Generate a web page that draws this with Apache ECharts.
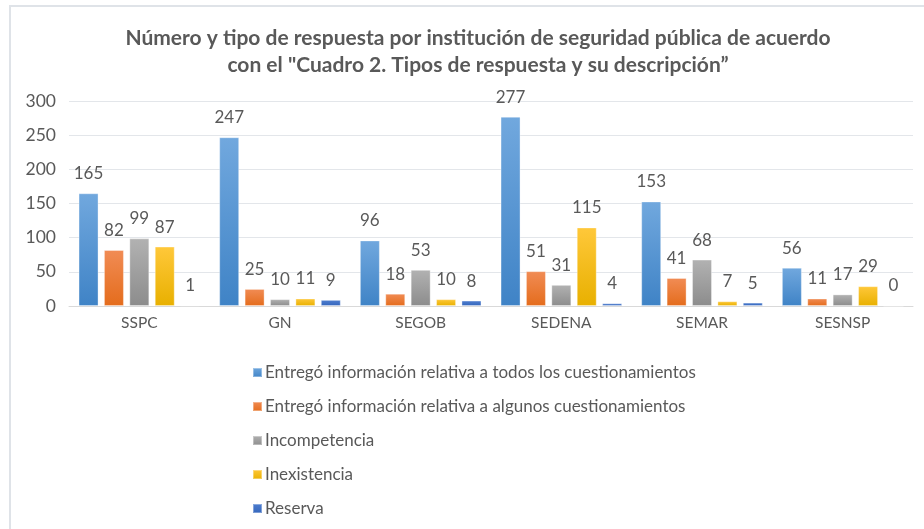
<!DOCTYPE html>
<html>
<head>
<meta charset="utf-8">
<script src="https://cdn.jsdelivr.net/npm/echarts@6/dist/echarts.min.js"></script>
<style>
  html, body { margin: 0; padding: 0; background: #fff; }
  #main { width: 924px; height: 529px; }
</style>
</head>
<body>
<div id="main"></div>
<script>
// datos
var categorias = ['SSPC', 'GN', 'SEGOB', 'SEDENA', 'SEMAR', 'SESNSP'];
var todos = [165, 247, 96, 277, 153, 56];
var algunos = [82, 25, 18, 51, 41, 11];
var incompetencia = [99, 10, 53, 31, 68, 17];
var inexistencia = [87, 11, 10, 115, 7, 29];
var reserva = [1, 9, 8, 4, 5, 0];
var nombres = [
    'Entregó información relativa a todos los cuestionamientos',
    'Entregó información relativa a algunos cuestionamientos',
    'Incompetencia',
    'Inexistencia',
    'Reserva'
];
var ticksY = [0, 50, 100, 150, 200, 250, 300];

var FONT = 'Lato, "Open Sans", sans-serif';
var TXT = '#595959';

// colores tipo Excel: [arriba, abajo]
var colores = [
    ['#71a8de', '#3f83c6'],
    ['#f18c55', '#e46c1c'],
    ['#b2b2b2', '#8c8c8c'],
    ['#ffc83a', '#e8b000'],
    ['#4f7fd0', '#3465bb']
];
var solidos = ['#5B9BD5', '#ED7D31', '#A5A5A5', '#FFC000', '#4472C4'];

function grad(c){
    return new echarts.graphic.LinearGradient(0, 0, 0, 1, [
        {offset: 0, color: c[0]}, {offset: 1, color: c[1]}
    ]);
}

var datos = [todos, algunos, incompetencia, inexistencia, reserva];
var series = datos.map(function(d, i){
    return {
        name: nombres[i],
        type: 'bar',
        data: d,
        barWidth: 20,
        barGap: '27%',
        itemStyle: { color: grad(colores[i]), borderColor: 'rgba(255,255,255,0.35)', borderWidth: 1 },
        label: {
            show: true,
            position: 'top',
            distance: 11,
            color: TXT,
            fontFamily: FONT,
            fontSize: 17
        }
    };
});

var chart = echarts.init(document.getElementById('main'));
var option = {
    backgroundColor: '#fff',
    animation: false,
    color: solidos,
    title: {
        text: 'Número y tipo de respuesta por institución de seguridad pública de acuerdo\ncon el "Cuadro 2. Tipos de respuesta y su descripción”',
        left: 473,
        top: 20,
        textAlign: 'center',
        textStyle: {
            color: TXT,
            fontFamily: FONT,
            fontWeight: 'bold',
            fontSize: 21,
            lineHeight: 27
        }
    },
    legend: {
        orient: 'vertical',
        left: 247,
        top: 359,
        itemWidth: 9,
        itemHeight: 9,
        itemGap: 17,
        icon: 'rect',
        textStyle: { color: TXT, fontFamily: FONT, fontSize: 17, padding: [0, 0, 0, -2] },
        data: nombres
    },
    grid: {
        left: 69,
        right: 11,
        top: 101,
        height: 205
    },
    xAxis: {
        type: 'category',
        data: categorias,
        axisLine: { lineStyle: { color: '#d9d9d9' } },
        axisTick: { show: false },
        axisLabel: { color: TXT, fontFamily: FONT, fontSize: 15.5, margin: 9 }
    },
    yAxis: {
        type: 'value',
        min: ticksY[0],
        max: ticksY[ticksY.length - 1],
        interval: 50,
        axisLine: { show: false },
        axisTick: { show: false },
        splitLine: { lineStyle: { color: '#e3e6ea' } },
        axisLabel: { color: TXT, fontFamily: FONT, fontSize: 17.5, margin: 13 }
    },
    graphic: [{
        type: 'polyline',
        shape: { points: [[10, 529], [10, 6], [924, 6]] },
        style: { stroke: '#dfe3e8', lineWidth: 2, fill: null },
        silent: true
    }],
    series: series
};
chart.setOption(option);
</script>
</body>
</html>
